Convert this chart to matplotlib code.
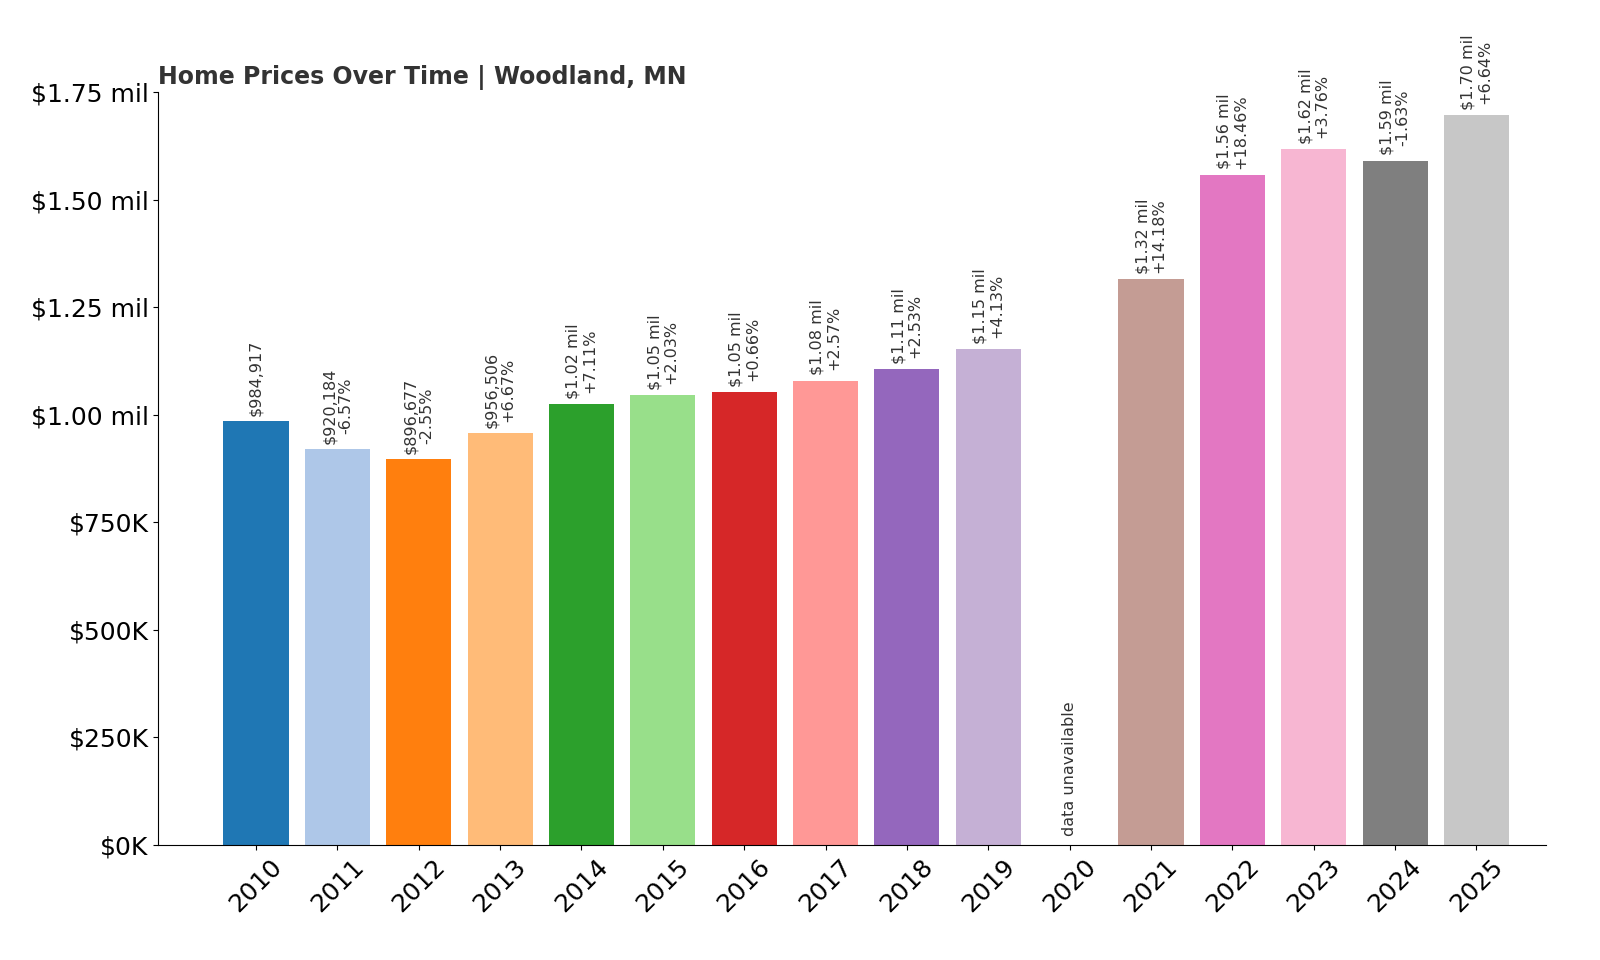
import numpy as np
import matplotlib.pyplot as plt

years = [2010, 2011, 2012, 2013, 2014, 2015, 2016, 2017, 2018, 2019, 2020,
         2021, 2022, 2023, 2024, 2025]
prices = [984917, 920184, 896677, 956506, 1024524, 1045322, 1052221, 1079263,
          1106568, 1152269, np.nan, 1315661, 1558532, 1617133, 1590774, 1696401]
changes = [None, -6.57, -2.55, 6.67, 7.11, 2.03, 0.66, 2.57, 2.53, 4.13, None,
           14.18, 18.46, 3.76, -1.63, 6.64]

colors = plt.cm.tab20.colors


def fmt_price(v):
    if v >= 1e6:
        return f"${v / 1e6:.2f} mil"
    return f"${v:,.0f}"


fig = plt.figure(figsize=(16, 9.6), dpi=100)
ax = fig.add_axes([0.099, 0.12, 0.867, 0.784])

x = np.arange(len(years))
for i, (yr, p) in enumerate(zip(years, prices)):
    if np.isnan(p):
        ax.text(i, 20000, "data unavailable", rotation=90, ha="center",
                va="bottom", fontsize=11.5, color="#333333")
        continue
    ax.bar(i, p, width=0.8, color=colors[i % len(colors)])
    label = fmt_price(p)
    if changes[i] is not None:
        label += f"\n{changes[i]:+.2f}%"
    ax.text(i, p + 12000, label, rotation=90, ha="center", va="bottom",
            fontsize=11.5, color="#333333", linespacing=1.1)

ax.set_xticks(x)
ax.set_xticklabels([str(y) for y in years], rotation=45, fontsize=18)
ax.set_ylim(0, 1750000)
yt = np.arange(0, 1750001, 250000)
ax.set_yticks(yt)
ax.set_yticklabels(["$0K" if v == 0 else (f"${v / 1e6:.2f} mil" if v >= 1e6 else f"${v / 1000:.0f}K")
                    for v in yt], fontsize=18)
ax.set_xlim(-1.2, 15.85)
ax.spines["top"].set_visible(False)
ax.spines["right"].set_visible(False)
ax.set_title("Home Prices Over Time | Woodland, MN", loc="left", fontsize=17,
             fontweight="bold", color="#333333")

fig.savefig("out.png")
